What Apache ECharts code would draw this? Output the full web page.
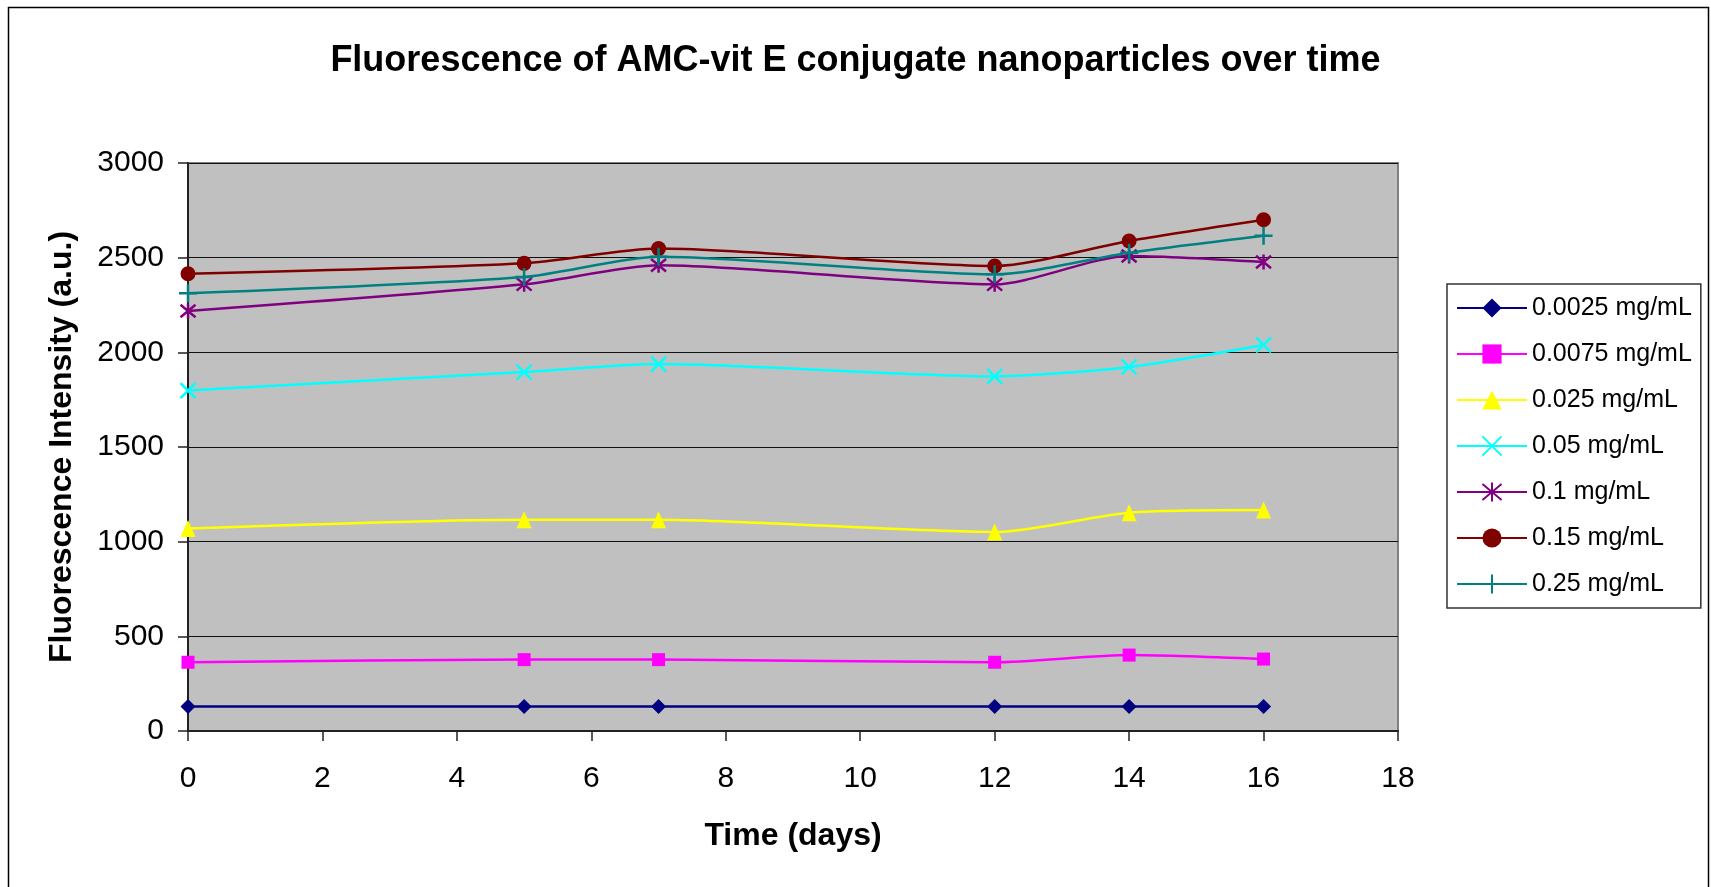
<!DOCTYPE html>
<html>
<head>
<meta charset="utf-8">
<script src="https://cdn.jsdelivr.net/npm/echarts@6/dist/echarts.min.js"></script>
<style>
  html, body { margin: 0; padding: 0; background: #fff; }
  #chart { width: 1711px; height: 887px; }
</style>
</head>
<body>
<div id="chart"></div>
<script>
// Sampling days
const days = [0, 5, 7, 12, 14, 16];

// Fluorescence intensity (a.u.) per concentration
const c0025 = [129, 129, 129, 129, 129, 129];
const c0075 = [363, 377, 377, 363, 401, 380];
const c025  = [1069, 1116, 1116, 1051, 1153, 1167];
const c05   = [1798, 1896, 1938, 1873, 1923, 2039];
const c1    = [2218, 2359, 2460, 2359, 2509, 2477];
const c15   = [2415, 2470, 2548, 2456, 2588, 2700];
const c25   = [2312, 2398, 2505, 2412, 2526, 2616];

const seriesNames = ['0.0025 mg/mL', '0.0075 mg/mL', '0.025 mg/mL', '0.05 mg/mL', '0.1 mg/mL', '0.15 mg/mL', '0.25 mg/mL'];
const seriesValues = [c0025, c0075, c025, c05, c1, c15, c25];

const xTicks = { min: 0, max: 18, step: 2 };
const yTicks = { min: 0, max: 3000, step: 500 };

const FONT = '"Liberation Sans", Arial, sans-serif';

// marker shapes
const SYM_X = 'path://M0,0L10,10M10,0L0,10';
const SYM_STAR = 'path://M0,0L10,10M10,0L0,10M5,-1L5,11';
const SYM_PLUS = 'path://M5,0L5,10M0,5L10,5';

const styles = [
  { color: '#000080', symbol: 'diamond', size: 15, width: 2.5 },
  { color: '#FF00FF', symbol: 'rect', size: 13, width: 2.5 },
  { color: '#FFFF00', symbol: 'triangle', size: [15, 17], width: 2.5 },
  { color: '#00FFFF', symbol: SYM_X, size: 15, width: 2.5, stroke: true },
  { color: '#800080', symbol: SYM_STAR, size: 15, width: 2.5, stroke: true },
  { color: '#800000', symbol: 'circle', size: 15, width: 2.5 },
  { color: '#008080', symbol: SYM_PLUS, size: 18, width: 2.5, stroke: true }
];

const series = seriesNames.map((name, i) => {
  const s = styles[i];
  return {
    name: name,
    type: 'line',
    smooth: 0.25,
    data: days.map((d, j) => [d, seriesValues[i][j]]),
    symbol: s.symbol,
    symbolSize: s.size,
    showAllSymbol: true,
    lineStyle: { color: s.color, width: s.width },
    itemStyle: s.stroke
      ? { color: s.color, borderColor: s.color, borderWidth: 2.5 }
      : { color: s.color, borderWidth: 0 },
    emphasis: { disabled: true },
    z: 3 + i
  };
});

const chart = echarts.init(document.getElementById('chart'), null, { renderer: 'canvas' });

chart.setOption({
  animation: false,
  backgroundColor: '#ffffff',
  graphic: [{
    type: 'rect',
    shape: { x: 8.5, y: 7.5, width: 1700, height: 900 },
    style: { fill: 'none', stroke: '#000', lineWidth: 1.5 },
    silent: true,
    z: -10
  }],
  title: {
    text: 'Fluorescence of AMC-vit E conjugate nanoparticles over time',
    left: 'center',
    top: 43,
    padding: 0,
    textStyle: { fontFamily: FONT, fontSize: 36, fontWeight: 'bold', color: '#000', lineHeight: 36 }
  },
  legend: {
    orient: 'vertical',
    left: 1447,
    top: 284,
    padding: [11, 9, 11, 9],
    itemWidth: 70,
    itemHeight: 24,
    itemGap: 20,
    backgroundColor: '#fff',
    borderColor: '#333',
    borderWidth: 1.5,
    borderRadius: 0,
    textStyle: { fontFamily: FONT, fontSize: 25, color: '#000', lineHeight: 26 },
    data: seriesNames
  },
  grid: {
    left: 188,
    top: 163,
    right: 313,
    bottom: 156,
    show: true,
    backgroundColor: '#C0C0C0',
    borderColor: '#808080',
    borderWidth: 2
  },
  xAxis: {
    type: 'value',
    min: xTicks.min,
    max: xTicks.max,
    interval: xTicks.step,
    name: 'Time (days)',
    nameLocation: 'middle',
    nameGap: 89,
    nameTextStyle: { fontFamily: FONT, fontSize: 32, fontWeight: 'bold', color: '#000', lineHeight: 32 },
    axisLine: { show: true, onZero: false, lineStyle: { color: '#222', width: 2 } },
    axisTick: { show: true, inside: false, length: 10, lineStyle: { color: '#222', width: 1.5 } },
    axisLabel: { fontFamily: FONT, fontSize: 30, color: '#000', margin: 33 },
    splitLine: { show: false }
  },
  yAxis: {
    type: 'value',
    min: yTicks.min,
    max: yTicks.max,
    interval: yTicks.step,
    name: 'Fluorescence Intensity (a.u.)',
    nameLocation: 'middle',
    nameGap: 110,
    nameTextStyle: { fontFamily: FONT, fontSize: 32, fontWeight: 'bold', color: '#000', lineHeight: 32 },
    axisLine: { show: true, lineStyle: { color: '#222', width: 2 } },
    axisTick: { show: true, inside: false, length: 10, lineStyle: { color: '#222', width: 1.5 } },
    axisLabel: { fontFamily: FONT, fontSize: 30, color: '#000', margin: 24, formatter: v => String(v) },
    splitLine: { show: true, lineStyle: { color: '#111', width: 1.2 } }
  },
  series: series
});
</script>
</body>
</html>
